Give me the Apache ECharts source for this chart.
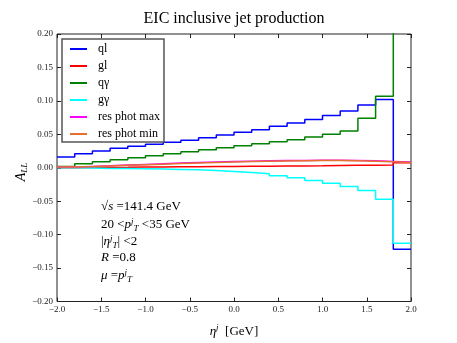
<!DOCTYPE html>
<html>
<head>
<meta charset="utf-8">
<script src="https://cdn.jsdelivr.net/npm/echarts@6/dist/echarts.min.js"></script>
<style>
html,body{margin:0;padding:0;background:#fff;}
#chart{width:457px;height:343px;}
</style>
</head>
<body>
<div id="chart"></div>
<script>
// bin edges of eta^j
const binEdges = [-2.0,-1.8,-1.6,-1.4,-1.2,-1.0,-0.8,-0.6,-0.4,-0.2,0.0,0.2,0.4,0.6,0.8,1.0,1.2,1.4,1.6,1.8,2.0];
// A_LL per bin (20 bins)
const ql = [0.016,0.021,0.025,0.029,0.032,0.035,0.038,0.041,0.045,0.049,0.053,0.057,0.062,0.067,0.072,0.078,0.085,0.094,0.102,-0.122];
const gl = [0.000,0.0003,0.0005,0.0007,0.0010,0.0012,0.0014,0.0016,0.0018,0.0020,0.0022,0.0024,0.0026,0.0028,0.0030,0.0033,0.0036,0.0039,0.0042,0.0075];
const qgamma = [0.002,0.006,0.009,0.012,0.015,0.018,0.021,0.024,0.027,0.030,0.033,0.036,0.039,0.042,0.046,0.050,0.055,0.074,0.107,0.25];
const ggamma = [0.000,-0.0005,-0.001,-0.001,-0.0015,-0.002,-0.0025,-0.003,-0.004,-0.0055,-0.007,-0.009,-0.012,-0.015,-0.019,-0.023,-0.028,-0.034,-0.047,-0.113];
const resMax = [0.001,0.002,0.003,0.004,0.005,0.006,0.007,0.0078,0.0085,0.0092,0.0098,0.0104,0.0108,0.0110,0.0112,0.0112,0.0110,0.0105,0.0095,0.0085];
const resMin = [0.001,0.0018,0.0027,0.0036,0.0045,0.0054,0.0063,0.0071,0.0078,0.0085,0.0092,0.0098,0.0102,0.0105,0.0107,0.0107,0.0104,0.0098,0.0088,0.0078];

const seriesNames = ['ql','gl','q\u03b3','g\u03b3','res phot max','res phot min'];
const seriesValues = [ql, gl, qgamma, ggamma, resMax, resMin];
const seriesColors = ['#0000ff','#ff0000','#008000','#00ffff','#ff00ff','#e3702e'];

const xTicks = [-2.0,-1.5,-1.0,-0.5,0.0,0.5,1.0,1.5,2.0];
const yTicks = [-0.20,-0.15,-0.10,-0.05,0.00,0.05,0.10,0.15,0.20];

const FONT = "'Liberation Serif','DejaVu Serif',serif";

function fmt(v, d){
  if (Math.abs(v) < 1e-9) return (0).toFixed(d);
  return (v < 0 ? '\u2212' : '') + Math.abs(v).toFixed(d);
}

function stepData(vals){
  return binEdges.map((x,i) => [x, vals[Math.min(i, vals.length-1)]]);
}

const chart = echarts.init(document.getElementById('chart'), null, {renderer:'canvas'});

const axisCommonX = {
  type:'value', min:xTicks[0], max:xTicks[xTicks.length-1], interval:0.5,
  splitLine:{show:false}, axisLine:{show:false, onZero:false},
  axisTick:{show:true, inside:true, length:4, lineStyle:{color:'#222', width:1}}
};
const axisCommonY = {
  type:'value', min:yTicks[0], max:yTicks[yTicks.length-1], interval:0.05,
  splitLine:{show:false}, axisLine:{show:false, onZero:false},
  axisTick:{show:true, inside:true, length:4, lineStyle:{color:'#222', width:1}}
};

const rich = {
  n:{fontFamily:FONT, fontSize:13, color:'#000'},
  i:{fontFamily:FONT, fontSize:13, fontStyle:'italic', color:'#000'},
  sup:{fontFamily:FONT, fontSize:9, fontStyle:'italic', color:'#000', padding:[0,0,7,0]},
  sub:{fontFamily:FONT, fontSize:9, fontStyle:'italic', color:'#000', padding:[7,0,0,0]}
};

const annot = [
  '{n|\u221a}{i|s}{n| =141.4 GeV}',
  '{n|20 <}{i|p}{sup|j}{sub|T}{n| <35 GeV}',
  '{n||}{i|\u03b7}{sup|j}{sub|T}{n|| <2}',
  '{i|R}{n| =0.8}',
  '{i|\u03bc}{n| =}{i|p}{sup|j}{sub|T}'
];
const annotY = [209, 226, 243, 260, 277];

chart.setOption({
  animation:false,
  backgroundColor:'#fff',
  grid:{left:57, right:46, top:34, bottom:32, show:true, borderColor:'#222', borderWidth:1, backgroundColor:'transparent'},
  xAxis:[
    Object.assign({}, axisCommonX, {
      position:'bottom',
      name:'{i|\u03b7}{sup|j}{n|  [GeV]}', nameLocation:'middle', nameGap:22,
      nameTextStyle:{rich:{
        n:{fontFamily:FONT, fontSize:13, color:'#000'},
        i:{fontFamily:FONT, fontSize:13, fontStyle:'italic', color:'#000'},
        sup:{fontFamily:FONT, fontSize:9, fontStyle:'italic', color:'#000', padding:[0,0,7,0]}
      }},
      axisLabel:{show:true, margin:4, fontFamily:FONT, fontSize:9, color:'#222', formatter:v => fmt(v,1)}
    }),
    Object.assign({}, axisCommonX, {position:'top', axisLabel:{show:false}})
  ],
  yAxis:[
    Object.assign({}, axisCommonY, {
      position:'left',
      axisLabel:{show:true, margin:4, fontFamily:FONT, fontSize:9, color:'#222', formatter:v => fmt(v,2)}
    }),
    Object.assign({}, axisCommonY, {position:'right', axisLabel:{show:false}})
  ],
  legend:{
    orient:'vertical', left:62, top:39,
    data:seriesNames,
    icon:'rect', itemWidth:17, itemHeight:2, itemGap:5,
    padding:[4,4,2,8],
    borderColor:'#555', borderWidth:1.5, borderRadius:0,
    backgroundColor:'#fff',
    itemStyle:{borderWidth:0},
    textStyle:{fontFamily:FONT, fontSize:12, color:'#000', lineHeight:12, padding:[0,0,0,6]}
  },
  graphic:[
    {type:'text', x:234, y:19, style:{text:'EIC inclusive jet production', font:"16px 'Liberation Serif','DejaVu Serif',serif", fill:'#000', textAlign:'center', textVerticalAlign:'middle'}},
    {type:'text', x:21, y:172, rotation:Math.PI/2, style:{
      text:'{i|A}{sub|LL}', align:'center', verticalAlign:'middle',
      rich:{
        i:{fontFamily:FONT, fontSize:14, fontStyle:'italic', color:'#000'},
        sub:{fontFamily:FONT, fontSize:9, fontStyle:'italic', color:'#000', padding:[7,0,0,0]}
      }}}
  ].concat(annot.map((t,i) => ({
    type:'text', left:101, top:annotY[i]-9,
    style:{text:t, rich:rich, fill:'#000'}
  }))),
  series: seriesNames.map((nm,i) => ({
    name:nm, type:'line', step:'end', symbol:'none', clip:true,
    xAxisIndex:0, yAxisIndex:0,
    color:seriesColors[i],
    lineStyle:{color:seriesColors[i], width:1.5},
    data:stepData(seriesValues[i]),
    z:2+i
  }))
});
</script>
</body>
</html>
